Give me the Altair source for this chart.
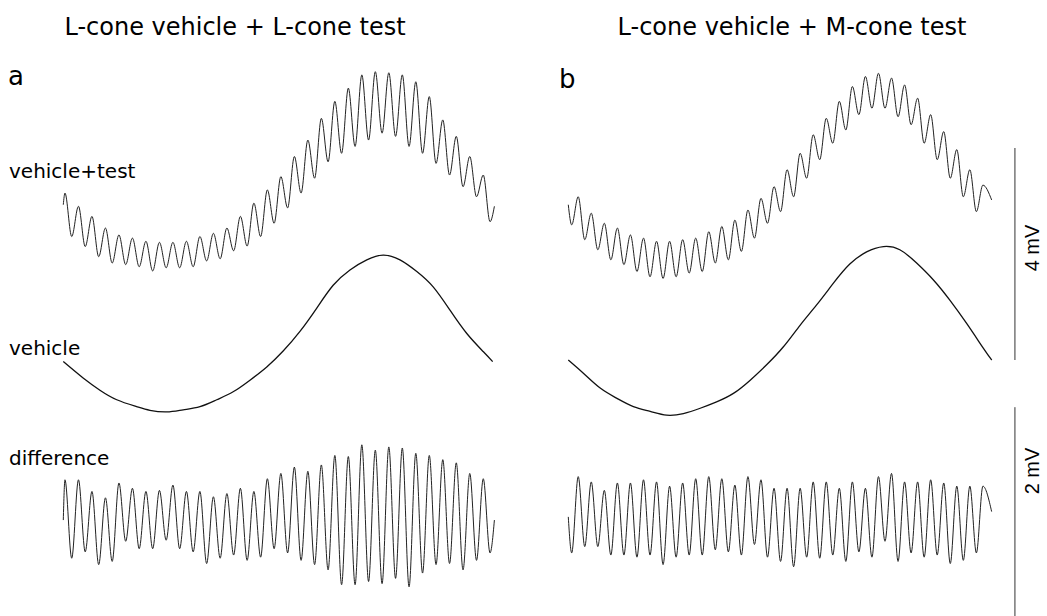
import altair as alt
import pandas as pd

# ---------------- data (mV) ----------------
# Oscillating traces: value at trace start, then successive extrema
# (peak/trough alternately, one per half cycle of the test), then value at trace end.

# Panel a: L-cone vehicle + L-cone test
A_VT_START, A_VT_END = 0.21, 0.18
A_VT_EXT = [0.43, -0.39, 0.18, -0.58, -0.01, -0.77, -0.23, -0.89, -0.36, -0.92,
            -0.42, -0.96, -0.48, -1.04, -0.50, -0.98, -0.50, -0.98, -0.48, -0.96,
            -0.39, -0.85, -0.33, -0.81, -0.23, -0.66, -0.01, -0.57, 0.24, -0.39,
            0.49, -0.14, 0.74, 0.15, 1.12, 0.43, 1.43, 0.71, 1.84, 1.02,
            2.16, 1.18, 2.41, 1.31, 2.66, 1.43, 2.72, 1.56, 2.70, 1.50,
            2.66, 1.31, 2.53, 1.18, 2.25, 0.99, 1.81, 0.77, 1.50, 0.55,
            1.12, 0.36, 0.77, -0.11]
A_DIFF_START, A_DIFF_END = -0.02, -0.02
A_DIFF_EXT = [0.36, -0.38, 0.36, -0.32, 0.25, -0.44, 0.19, -0.41, 0.33, -0.22,
              0.28, -0.29, 0.25, -0.29, 0.26, -0.21, 0.31, -0.29, 0.25, -0.32,
              0.25, -0.43, 0.20, -0.38, 0.23, -0.35, 0.28, -0.40, 0.25, -0.37,
              0.37, -0.29, 0.42, -0.33, 0.48, -0.40, 0.44, -0.44, 0.50, -0.49,
              0.59, -0.63, 0.58, -0.63, 0.69, -0.60, 0.64, -0.62, 0.67, -0.57,
              0.66, -0.65, 0.61, -0.52, 0.59, -0.44, 0.55, -0.43, 0.52, -0.49,
              0.42, -0.40, 0.37, -0.33]
A_VEH_T = [0, 46, 85, 124, 170, 201, 240, 278, 317, 356, 394, 433, 472, 510,
           549, 588, 626, 665, 704, 742, 781, 820, 858, 897, 936, 974, 996]
A_VEH = [-0.54, -0.85, -1.08, -1.26, -1.39, -1.46, -1.49, -1.45, -1.39, -1.26,
         -1.11, -0.89, -0.64, -0.34, 0.03, 0.47, 0.90, 1.19, 1.38, 1.47,
         1.38, 1.16, 0.87, 0.43, -0.01, -0.35, -0.54]

# Panel b: L-cone vehicle + M-cone test
B_VT_START, B_VT_END = 0.21, 0.30
B_VT_EXT = [-0.17, 0.36, -0.45, 0.05, -0.64, -0.14, -0.83, -0.23, -0.92, -0.36,
            -1.05, -0.42, -1.15, -0.48, -1.18, -0.48, -1.15, -0.45, -1.08, -0.42,
            -1.05, -0.30, -0.89, -0.20, -0.83, -0.08, -0.67, 0.11, -0.42, 0.33,
            -0.14, 0.55, 0.08, 0.87, 0.36, 1.18, 0.71, 1.53, 1.06, 1.84,
            1.37, 2.16, 1.62, 2.44, 1.91, 2.63, 2.03, 2.69, 2.03, 2.60,
            1.87, 2.47, 1.72, 2.22, 1.37, 1.91, 1.06, 1.59, 0.71, 1.25,
            0.36, 0.87, 0.08, 0.58]
B_DIFF_START, B_DIFF_END = 0.01, 0.06
B_DIFF_EXT = [-0.33, 0.39, -0.27, 0.34, -0.27, 0.26, -0.35, 0.33, -0.35, 0.33,
              -0.37, 0.36, -0.35, 0.34, -0.44, 0.30, -0.37, 0.33, -0.35, 0.37,
              -0.35, 0.39, -0.30, 0.37, -0.32, 0.31, -0.35, 0.39, -0.25, 0.36,
              -0.37, 0.28, -0.41, 0.28, -0.46, 0.28, -0.37, 0.34, -0.38, 0.34,
              -0.35, 0.28, -0.41, 0.34, -0.32, 0.28, -0.37, 0.39, -0.22, 0.42,
              -0.41, 0.34, -0.33, 0.34, -0.37, 0.36, -0.35, 0.33, -0.43, 0.30,
              -0.40, 0.30, -0.33, 0.30]
B_VEH_T = [0, 35, 74, 112, 151, 190, 228, 267, 306, 344, 383, 422, 460, 499,
           538, 576, 615, 653, 692, 731, 769, 808, 847, 885, 924, 963, 982]
B_VEH = [-0.51, -0.76, -1.04, -1.23, -1.39, -1.48, -1.55, -1.52, -1.42, -1.30,
         -1.14, -0.89, -0.60, -0.26, 0.15, 0.53, 0.94, 1.30, 1.53, 1.63,
         1.57, 1.32, 1.00, 0.62, 0.18, -0.29, -0.51]

# timing of the recordings (ms): first extremum, half period of the test, trace length
A_TIME = (3.9, 15.65, 1000.0)
B_TIME = (7.9, 15.14, 982.0)

# ---------------- layout / style ----------------
PX_PER_MV = 53.0
H = 616
Y_DOMAIN = [0, H / PX_PER_MV]
OFF_VT, OFF_VEH, OFF_DIFF = 7.55, 5.34, 1.85   # vertical offsets of the traces
DIFF_GAIN = 2.0                                  # difference traces shown at double gain
INK = "#1a1a1a"
FONT = "DejaVu Sans"


def osc_frame(start, ext, end, timing, offset, gain, name):
    t0, h, t_end = timing
    t = [0.0] + [t0 + h * k for k in range(len(ext))] + [t_end]
    v = [start] + list(ext) + [end]
    return pd.DataFrame({"t": t, "y": [offset + gain * x for x in v], "trace": name})


def smooth_frame(ts, vs, offset, name):
    return pd.DataFrame({"t": ts, "y": [offset + x for x in vs], "trace": name})


def label(txt, x, y, size, align="left", angle=0, font=FONT, baseline="alphabetic"):
    return alt.Chart(pd.DataFrame({"s": [txt]})).mark_text(
        text=txt, x=x, y=y, fontSize=size, font=font, align=align,
        baseline=baseline, angle=angle, color="black")


def panel(df_osc, df_smooth, width, domain, extras):
    xs = alt.Scale(domain=domain, nice=False, zero=False)
    ys = alt.Scale(domain=Y_DOMAIN, nice=False, zero=False)
    enc = dict(x=alt.X("t:Q", scale=xs, axis=None),
               y=alt.Y("y:Q", scale=ys, axis=None),
               detail="trace:N")
    osc = alt.Chart(df_osc).mark_line(
        interpolate="monotone", color="#222222", strokeWidth=1.0).encode(**enc)
    smooth = alt.Chart(df_smooth).mark_line(
        interpolate="natural", color="#111111", strokeWidth=1.3).encode(**enc)
    layers = [osc, smooth]
    for e in extras:
        layers.append(e(xs, ys) if callable(e) else e)
    return alt.layer(*layers).properties(width=width, height=H)


osc_a = pd.concat([
    osc_frame(A_VT_START, A_VT_EXT, A_VT_END, A_TIME, OFF_VT, 1.0, "vt"),
    osc_frame(A_DIFF_START, A_DIFF_EXT, A_DIFF_END, A_TIME, OFF_DIFF, DIFF_GAIN, "diff"),
])
veh_a = smooth_frame(A_VEH_T, A_VEH, OFF_VEH, "veh")
osc_b = pd.concat([
    osc_frame(B_VT_START, B_VT_EXT, B_VT_END, B_TIME, OFF_VT, 1.0, "vt"),
    osc_frame(B_DIFF_START, B_DIFF_EXT, B_DIFF_END, B_TIME, OFF_DIFF, DIFF_GAIN, "diff"),
])
veh_b = smooth_frame(B_VEH_T, B_VEH, OFF_VEH, "veh")

# scale bars: 4 mV (top traces) and 2 mV (difference traces, double gain)
BAR_T = 1036
bars = pd.DataFrame({
    "t": [BAR_T, BAR_T],
    "y0": [4.83, 3.94 - 2 * DIFF_GAIN],
    "y1": [4.83 + 4, 3.94],
})


def bar_layer(xs, ys):
    return alt.Chart(bars).mark_rule(color="#333333", strokeWidth=1, clip=True).encode(
        x=alt.X("t:Q", scale=xs, axis=None),
        y=alt.Y("y0:Q", scale=ys, axis=None),
        y2="y1:Q")


W_A, W_B = 515, 532
chart_a = panel(osc_a, veh_a, W_A, [-146.8, 1047.8], [
    label("L-cone vehicle + L-cone test", 235, 35, 24, align="center"),
    label("a", 8, 85, 26),
    label("vehicle+test", 9, 178, 20),
    label("vehicle", 9, 355, 20),
    label("difference", 9, 465, 20),
])
chart_b = panel(osc_b, veh_b, W_B, [-123.6, 1110.4], [
    label("L-cone vehicle + M-cone test", 792 - W_A, 35, 24, align="center"),
    label("b", 44, 88, 26),
    bar_layer,
    label("4 mV", 1033 - W_A, 248, 20, align="center", angle=270,
          font="Liberation Sans", baseline="middle"),
    label("2 mV", 1033 - W_A, 471, 20, align="center", angle=270,
          font="Liberation Sans", baseline="middle"),
])

chart = alt.hconcat(chart_a, chart_b, spacing=0).properties(
    padding=0, background="white").configure_view(stroke=None)

chart.save("out.html", embed_options={"renderer": "svg", "actions": False})
